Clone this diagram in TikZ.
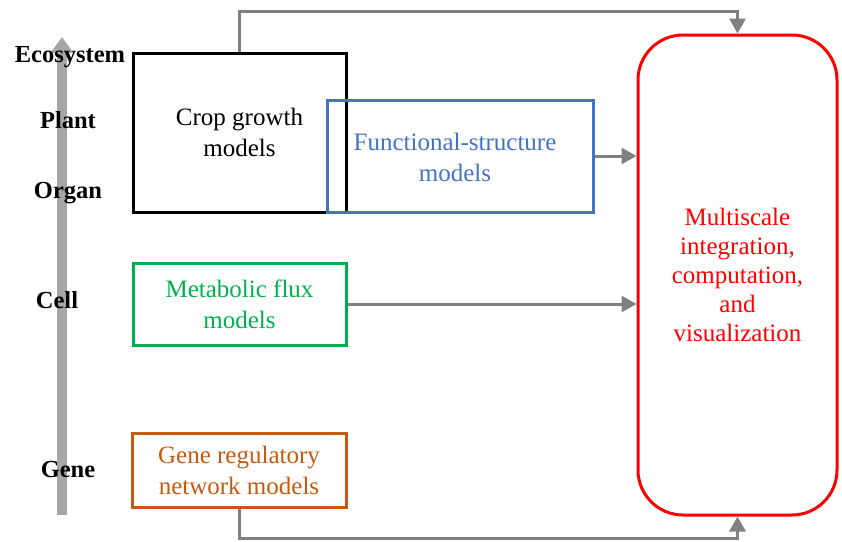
\documentclass[tikz,border=0pt]{standalone}
\usepackage{fontspec}
\setmainfont{Liberation Serif}
\usepackage{xcolor}
\usetikzlibrary{arrows.meta,shapes,calc}

\definecolor{fsblue}{HTML}{4472C4}
\definecolor{mfgreen}{HTML}{00B050}
\definecolor{grorange}{HTML}{C55A11}
\definecolor{linkgray}{HTML}{808080}
\definecolor{scalegray}{HTML}{A6A6A6}

\begin{document}
\begin{tikzpicture}[x=1pt, y=-1pt,
	>={Triangle[length=15pt,width=16pt]}]

	\tikzstyle{model}=[rectangle,draw,line width=3pt,align=center,
		font=\fontsize{25}{31}\selectfont]
	\tikzstyle{level}=[font=\fontsize{24.5}{28}\selectfont\bfseries]
	\tikzstyle{link}=[->,draw=linkgray,line width=3pt]

	\useasboundingbox (0,0) rectangle (842,541);

	% Scale arrow
	\coordinate (low) at (62,515);
	\coordinate (high) at (62,37);
	\draw[scalegray,line width=10pt,-{Triangle[length=16pt,width=22pt]}] (low) -- (high);
	\node[level] (eco) at (70,57) {Ecosystem};
	\node[level] (plant) at (68,120) {Plant};
	\node[level] (organ) at (68,193) {Organ};
	\node[level] (cell) at (57,300) {Cell};
	\node[level] (gene) at (68,469) {Gene};

	% Models
	\node[model,minimum width=213pt,minimum height=159pt] (crop) at (239.5,132.5) {Crop growth\\models};
	\node[model,draw=fsblue,text=fsblue,minimum width=266pt,minimum height=112pt] (fs) at (460,156) {};
	\node[text=fsblue,align=center,font=\fontsize{25}{31}\selectfont] (fstext) at (455,157) {Functional-structure\\models};
	\node[model,draw=mfgreen,text=mfgreen,minimum width=213pt,minimum height=82pt] (mf) at (239.5,304) {Metabolic flux\\models};
	\node[model,draw=grorange,text=grorange,minimum width=214pt,minimum height=74pt] (grn) at (239,470) {Gene regulatory\\network models};
	\node[draw=red,text=red,line width=3pt,rounded corners=45pt,align=center,
		minimum width=199pt,minimum height=480pt,
		font=\fontsize{25}{29}\selectfont] (multi) at (737.5,275) {Multiscale\\integration,\\computation,\\and\\visualization};

	% From models to integration
	\draw[link] (crop.north) -- ++(0,-40) -| (multi.north);
	\draw[link] (fs.east) -- (fs.east -| multi.west);
	\draw[link] (mf.east) -- (mf.east -| multi.west);
	\draw[link] (grn.south) -- ++(0,30) -| (multi.south);

\end{tikzpicture}
\end{document}
